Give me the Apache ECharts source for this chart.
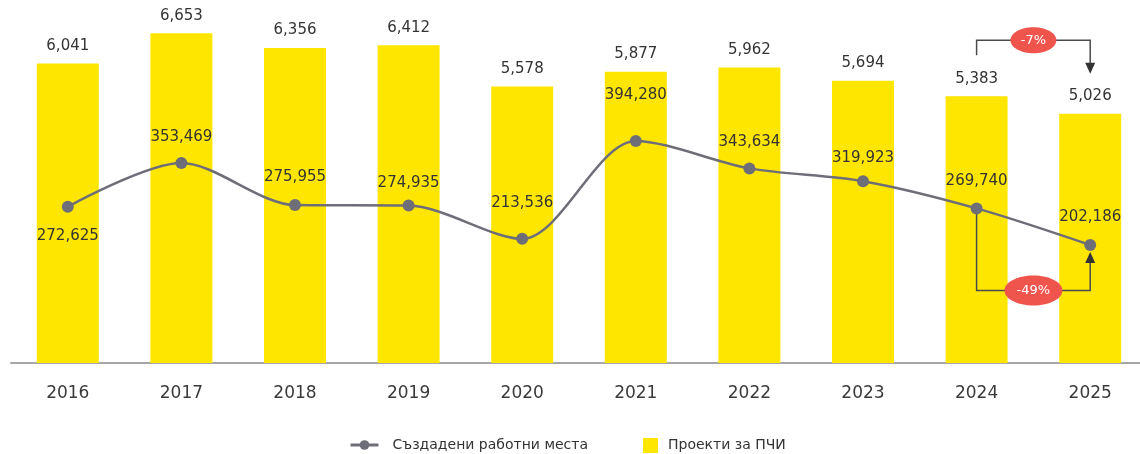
<!DOCTYPE html>
<html><head><meta charset="utf-8">
<script src="https://cdn.jsdelivr.net/npm/echarts@6/dist/echarts.min.js"></script>
<style>html,body{margin:0;padding:0;background:#fff}#c{width:1140px;height:454px}</style>
</head><body><div id="c"></div>
<script>
const years = ['2016','2017','2018','2019','2020','2021','2022','2023','2024','2025'];
const projects = [6041, 6653, 6356, 6412, 5578, 5877, 5962, 5694, 5383, 5026];
const jobs = [272625, 353469, 275955, 274935, 213536, 394280, 343634, 319923, 269740, 202186];
const jobLabelDy = [29, -26, -28, -22, -36, -46, -26, -23, -27, -28];
const changeProjects = '-7%';
const changeJobs = '-49%';
const lineName = 'Създадени работни места';
const barName = 'Проекти за ПЧИ';

const FONT = 'DejaVu Sans';
const fmt = v => v.toLocaleString('en-US');
const chart = echarts.init(document.getElementById('c'));
const option = {
  animation: false,
  textStyle: {fontFamily: FONT},
  grid: {left: 11, right: -7, top: 16, bottom: 91, outerBoundsMode: 'none', containLabel: false},
  legend: [
    {data: [lineName], left: 344, top: 433, itemWidth: 28, itemHeight: 12,
     lineStyle: {width: 3},
     textStyle: {fontFamily: FONT, fontSize: 14, color: '#333', padding: [0, 0, 0, 9]}},
    {data: [barName], left: 638, top: 433, itemWidth: 15, itemHeight: 15, icon: 'rect',
     textStyle: {fontFamily: FONT, fontSize: 14, color: '#333', padding: [0, 0, 0, 5]}}
  ],
  xAxis: {type: 'category', data: years,
    axisLine: {lineStyle: {color: '#a6a6a6', width: 2}}, axisTick: {show: false},
    axisLabel: {color: '#3a3a3a', fontSize: 17, margin: 22, fontFamily: FONT}},
  yAxis: [
    {type: 'value', min: 0, max: 7000, show: false, splitLine: {show: false}},
    {type: 'value', min: -15700, max: 625000, show: false, splitLine: {show: false}}
  ],
  series: [
    {name: barName, type: 'bar', data: projects, barWidth: 62, yAxisIndex: 0,
     itemStyle: {color: '#FFE600'},
     label: {show: true, position: 'top', distance: 10, color: '#333', fontSize: 15,
       fontFamily: FONT, formatter: p => fmt(p.value)}},
    {name: lineName, type: 'line', data: jobs.map((v, i) => ({value: v,
        label: {offset: [0, jobLabelDy[i]]}})),
     yAxisIndex: 1, smooth: 0.3, symbol: 'circle', symbolSize: 12, z: 5,
     lineStyle: {color: '#6e6e78', width: 2.5}, itemStyle: {color: '#6e6e78'},
     label: {show: true, position: 'inside', color: '#333', fontSize: 15,
       fontFamily: FONT, formatter: p => fmt(p.value)}}
  ]
};
chart.setOption(option);

// annotations computed from data via scales
const n = years.length;
const i24 = n - 2, i25 = n - 1;
const x24 = chart.convertToPixel({gridIndex: 0}, [i24, 0])[0];
const x25 = chart.convertToPixel({gridIndex: 0}, [i25, 0])[0];
const yb24 = chart.convertToPixel({yAxisIndex: 0}, projects[i24]);
const yb25 = chart.convertToPixel({yAxisIndex: 0}, projects[i25]);
const yl24 = chart.convertToPixel({yAxisIndex: 1}, jobs[i24]);
const yl25 = chart.convertToPixel({yAxisIndex: 1}, jobs[i25]);
const col = '#4a4a4a', red = '#F0554D';
const topY = yb24 - 56, midX = (x24 + x25) / 2;
const tip1 = yb25 - 40;
const botY = yl24 + 82;
const tip2 = yl25 + 7;
function arrow(x, y, dir) { // dir 1 = down, -1 = up
  return {type: 'polygon', shape: {points: [[x - 5, y - dir * 11], [x + 5, y - dir * 11], [x, y]]},
    style: {fill: '#333'}, z: 20};
}
chart.setOption({graphic: [
  {type: 'polyline', shape: {points: [[x24, yb24 - 41], [x24, topY], [x25, topY], [x25, tip1 - 8]]},
   style: {stroke: col, lineWidth: 1.5, fill: null}, z: 19},
  arrow(x25, tip1, 1),
  {type: 'ellipse', shape: {cx: midX, cy: topY, rx: 23, ry: 13}, style: {fill: red}, z: 21},
  {type: 'text', x: midX, y: topY, style: {text: changeProjects, fill: '#fff', fontSize: 13,
    fontFamily: FONT, align: 'center', verticalAlign: 'middle'}, z: 22},
  {type: 'polyline', shape: {points: [[x24, yl24], [x24, botY], [x25, botY], [x25, tip2 + 8]]},
   style: {stroke: col, lineWidth: 1.5, fill: null}, z: 4},
  arrow(x25, tip2, -1),
  {type: 'ellipse', shape: {cx: midX, cy: botY, rx: 29, ry: 15}, style: {fill: red}, z: 21},
  {type: 'text', x: midX, y: botY, style: {text: changeJobs, fill: '#fff', fontSize: 13,
    fontFamily: FONT, align: 'center', verticalAlign: 'middle'}, z: 22}
]});
</script></body></html>
